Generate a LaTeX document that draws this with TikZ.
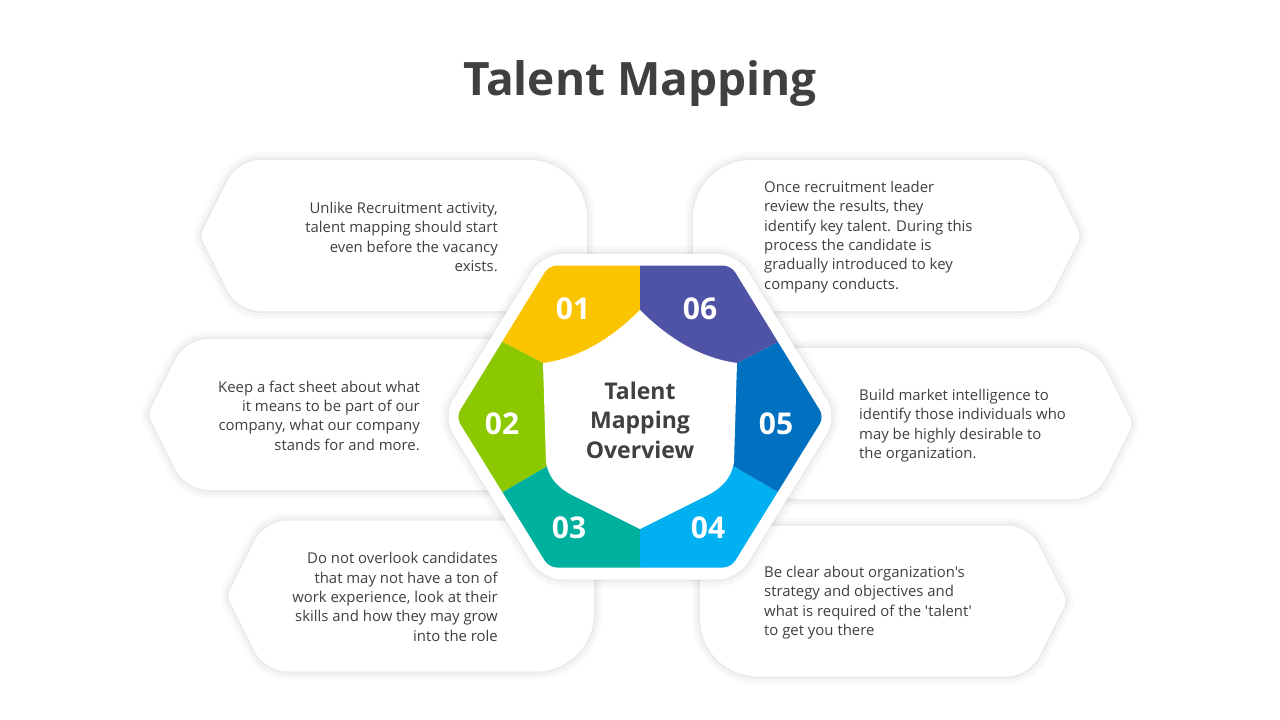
\documentclass[tikz,border=0pt]{standalone}
\usepackage{fontspec}
\setmainfont{Open Sans}
\newfontfamily\osans{Open Sans}
\definecolor{cYellow}{HTML}{FBC400}
\definecolor{cPurple}{HTML}{4F53A6}
\definecolor{cBlue}{HTML}{0070C0}
\definecolor{cLBlue}{HTML}{00B0F0}
\definecolor{cTeal}{HTML}{00B09E}
\definecolor{cGreen}{HTML}{8CC800}
\definecolor{txt}{HTML}{404040}
\tikzset{
  softshadow/.style={
    preaction={draw=black,draw opacity=0.018,line width=16},
    preaction={draw=black,draw opacity=0.025,line width=10},
    preaction={draw=black,draw opacity=0.035,line width=4}},
  calloutbox/.style={fill=white,softshadow},
  bodytext/.style={text=txt,font=\osans\fontsize{14.9}{19.3}\selectfont,inner sep=0pt},
  numtext/.style={text=white,font=\osans\bfseries\fontsize{30}{32}\selectfont,inner sep=0pt},
  centertext/.style={text=txt,font=\osans\bfseries\fontsize{23}{29.5}\selectfont,inner sep=0pt,align=center},
  titletext/.style={text=txt,font=\osans\bfseries\fontsize{46}{50}\selectfont,inner sep=0pt}
}
\begin{document}
\begin{tikzpicture}[x=1pt,y=-1pt]
\useasboundingbox (0,0) rectangle (1280,720);
\fill[white] (0,0) rectangle (1280,720);

% title
\node[titletext,anchor=base] (title) at (640,95) {Talent Mapping};

% callouts (left side, tip pointing left)
\path[calloutbox] (400,160) [rounded corners=58] -- (587,160) -- (587,311) -- (400,311)
  [rounded corners=22] -- (237.75,311) -- (218.9,273.25) [rounded corners=6] -- (200,235.5)
  -- (218.9,197.75) [rounded corners=22] -- (237.75,160) -- cycle;
\path[calloutbox] (350,339) [rounded corners=58] -- (540,339) -- (540,490) -- (350,490)
  [rounded corners=22] -- (185.75,490) -- (166.9,452.25) [rounded corners=6] -- (148,414.5)
  -- (166.9,376.75) [rounded corners=22] -- (185.75,339) -- cycle;
\path[calloutbox] (420,520.5) [rounded corners=58] -- (594,520.5) -- (594,671.5) -- (420,671.5)
  [rounded corners=22] -- (264.75,671.5) -- (245.9,633.75) [rounded corners=6] -- (227,596)
  -- (245.9,558.25) [rounded corners=22] -- (264.75,520.5) -- cycle;

% callouts (right side, tip pointing right)
\path[calloutbox] (850,160) [rounded corners=22] -- (1043.25,160) -- (1062.1,197.75)
  [rounded corners=6] -- (1081,235.5) -- (1062.1,273.25) [rounded corners=22] -- (1043.25,311)
  -- (850,311) [rounded corners=58] -- (693,311) -- (693,160) -- cycle;
\path[calloutbox] (900,348) [rounded corners=22] -- (1095.25,348) -- (1114.1,385.75)
  [rounded corners=6] -- (1133,423.5) -- (1114.1,461.25) [rounded corners=22] -- (1095.25,499)
  -- (900,499) [rounded corners=58] -- (740,499) -- (740,348) -- cycle;
\path[calloutbox] (850,525.5) [rounded corners=22] -- (1029.25,525.5) -- (1048.1,563.25)
  [rounded corners=6] -- (1067,601) -- (1048.1,638.75) [rounded corners=22] -- (1029.25,676.5)
  -- (850,676.5) [rounded corners=58] -- (700,676.5) -- (700,525.5) -- cycle;

% callout texts
\node[bodytext,align=right,anchor=east] (t1) at (498,237) {Unlike Recruitment activity,\\talent mapping should start\\even before the vacancy\\exists.};
\node[bodytext,align=right,anchor=east] (t2) at (420,415.5) {Keep a fact sheet about what\\it means to be part of our\\company, what our company\\stands for and more.};
\node[bodytext,align=right,anchor=east] (t3) at (498,597) {Do not overlook candidates\\that may not have a ton of\\work experience, look at their\\skills and how they may grow\\into the role};
\node[bodytext,align=left,anchor=west] (t6) at (764,237) {Once recruitment leader\\review the results, they\\identify key talent. During this\\process the candidate is\\gradually introduced to key\\company conducts.};
\node[bodytext,align=left,anchor=west] (t5) at (859,425.5) {Build market intelligence to\\identify those individuals who\\may be highly desirable to\\the organization.};
\node[bodytext,align=left,anchor=west] (t4) at (764,602.5) {Be clear about organization's\\strategy and objectives and\\what is required of the 'talent'\\to get you there};

% outer white hexagon
\path[fill=white,softshadow,rounded corners=20] (640,254) -- (737.4,254) -- (837.5,417)
  -- (737.4,579.5) -- (542.6,579.5) -- (442.5,417) -- (542.6,254) -- cycle;

% coloured segments
\begin{scope}
\clip[rounded corners=8] (640,265.5) -- (731,265.5) -- (824,417) -- (731,567.5)
  -- (549,567.5) -- (456,417) -- (549,265.5) -- cycle;
\fill[cYellow] (640,417) -- (543,363) -- (423,300) -- (400,200) -- (640,200) -- cycle;
\fill[cGreen] (640,417) -- (543,363) -- (423,300) -- (380,300) -- (380,560) -- (438.5,529.5) -- (546,467) -- cycle;
\fill[cTeal] (640,417) -- (546,467) -- (438.5,529.5) -- (420,640) -- (640,640) -- cycle;
\fill[cLBlue] (640,417) -- (640,640) -- (860,640) -- (842.5,529.5) -- (735,467) -- cycle;
\fill[cBlue] (640,417) -- (735,467) -- (842.5,529.5) -- (900,560) -- (900,300) -- (860,300) -- (737,363) -- cycle;
\fill[cPurple] (640,417) -- (737,363) -- (860,300) -- (880,200) -- (640,200) -- cycle;
\end{scope}

% white shield
\fill[white] (640,310) .. controls (612,338) and (580,358) .. (543,363) -- (546,462)
  .. controls (549,480) and (560,490) .. (580,499) -- (640,529) -- (700,499)
  .. controls (720,490) and (731,480) .. (734,462) -- (737,363)
  .. controls (700,358) and (668,338) .. (640,310) -- cycle;

% numbers
\node[numtext] (n1) at (573,309) {01};
\node[numtext] (n6) at (700,309) {06};
\node[numtext] (n2) at (502,424) {02};
\node[numtext] (n5) at (776,424) {05};
\node[numtext] (n3) at (569,528) {03};
\node[numtext] (n4) at (708,528) {04};

% centre text
\node[centertext] (ctr) at (640,420) {Talent\\Mapping\\Overview};
\end{tikzpicture}
\end{document}
